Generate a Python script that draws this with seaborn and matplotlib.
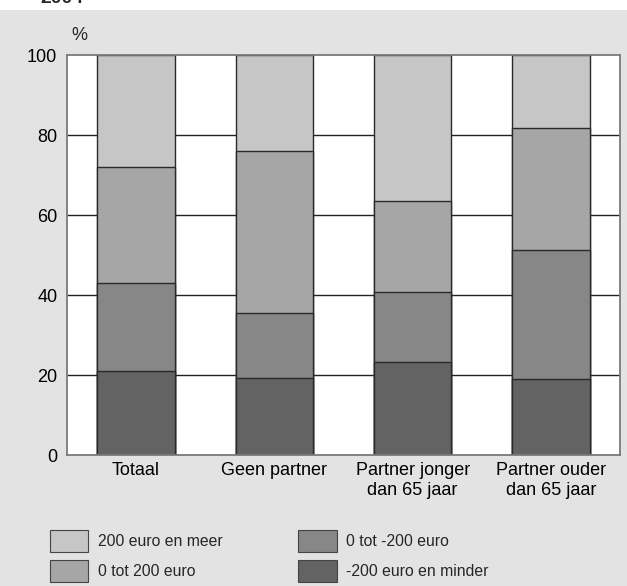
import pandas as pd
import seaborn as sns
from matplotlib import pyplot as plt
from matplotlib.patches import Patch, Rectangle

# Waarden (procent)
categorieen = ["Totaal", "Geen partner", "Partner jonger\ndan 65 jaar", "Partner ouder\ndan 65 jaar"]
min200 = [21.0, 19.25, 23.25, 19.0]         # -200 euro en minder
tot_min200 = [22.0, 16.25, 17.5, 32.25]     # 0 tot -200 euro
tot200 = [29.0, 40.5, 22.75, 30.5]          # 0 tot 200 euro
meer200 = [28.0, 24.0, 36.5, 18.25]         # 200 euro en meer

reeksen = ["200 euro en meer", "0 tot 200 euro", "0 tot -200 euro", "-200 euro en minder"]
kleuren = ["#c6c6c6", "#a6a6a6", "#878787", "#636363"]

df = pd.DataFrame({
    "cat": categorieen,
    "-200 euro en minder": min200,
    "0 tot -200 euro": tot_min200,
    "0 tot 200 euro": tot200,
    "200 euro en meer": meer200,
})
# cumulatief voor gestapelde balken
df["c1"] = df["-200 euro en minder"]
df["c2"] = df["c1"] + df["0 tot -200 euro"]
df["c3"] = df["c2"] + df["0 tot 200 euro"]
df["c4"] = df["c3"] + df["200 euro en meer"]

sns.set_style("white")
plt.rcParams["font.family"] = ["Liberation Sans", "DejaVu Sans"]

fig = plt.figure(figsize=(6.27, 5.86), dpi=100)
fig.patch.set_facecolor("white")
fig.patches.append(Rectangle((0, 0), 1, 1 - 10 / 586, transform=fig.transFigure,
                             facecolor="#e3e3e3", edgecolor="none", zorder=-10))

ax = fig.add_axes([67 / 627, 1 - 455 / 586, 553 / 627, 400 / 586])
ax.set_facecolor("white")

# van boven naar beneden tekenen
for kol, kleur in zip(["c4", "c3", "c2", "c1"], kleuren):
    sns.barplot(data=df, x="cat", y=kol, color=kleur, width=0.56,
                edgecolor="#2a2a2a", linewidth=1.0, saturation=1, ax=ax, zorder=2)

ax.set_ylim(0, 100)
ax.set_xlim(-0.5, 3.5)
ax.set_yticks([0, 20, 40, 60, 80, 100])
for y in [20, 40, 60, 80]:
    ax.axhline(y, color="#222222", linewidth=1.0, zorder=1)
ax.set_xlabel("")
ax.set_ylabel("")
ax.tick_params(axis="both", length=0, labelsize=13, colors="black")
ax.tick_params(axis="y", pad=7)
ax.tick_params(axis="x", pad=5)
for s in ax.spines.values():
    s.set_color("#7a7a7a")
    s.set_linewidth(1.3)

fig.text(71 / 627, 1 - 40 / 586, "%", fontsize=13, va="baseline")
fig.text(40 / 627, 1 - 3 / 586, "2004", fontsize=14, fontweight="bold", va="baseline")

handles = [Patch(facecolor=k, edgecolor="#444444", linewidth=0.8) for k in kleuren]
fig.legend(handles, reeksen, ncol=2, loc="upper left",
           bbox_to_anchor=(50 / 627, 1 - 530 / 586), frameon=False, fontsize=11.3,
           borderpad=0, borderaxespad=0,
           handlelength=2.45, handleheight=1.74, handletextpad=0.6,
           columnspacing=4.83, labelspacing=0.53)

plt.savefig("out.png", dpi=100, facecolor=fig.get_facecolor())
